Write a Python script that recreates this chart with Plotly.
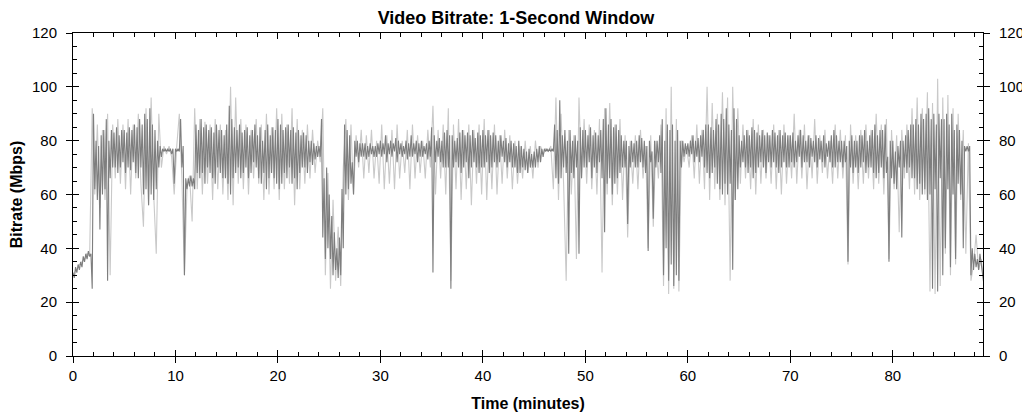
import numpy as np
import plotly.graph_objects as go

step = 0.25
# Dark series (1-second window bitrate, Mbps): per 0.25-min slot, the band's upper and lower reading
dark_hi = [
    31, 33, 34, 35, 37, 38, 39, 38, 90, 80, 78, 82, 84, 88, 80, 84, 83, 85, 82, 84,
    84, 83, 85, 84, 86, 85, 88, 86, 90, 88, 92, 86, 84, 80, 78, 77, 77, 77, 77, 77,
    77, 77, 88, 78, 66, 66, 67, 66, 86, 84, 88, 85, 86, 84, 85, 83, 86, 84, 84, 82,
    86, 93, 88, 85, 84, 86, 83, 84, 85, 82, 84, 86, 82, 85, 80, 84, 86, 82, 85, 84,
    88, 86, 84, 85, 86, 84, 85, 83, 84, 82, 83, 82, 80, 80, 79, 78, 78, 88, 66, 70,
    60, 52, 46, 40, 44, 62, 86, 84, 82, 72, 80, 80, 79, 79, 79, 78, 79, 78, 78, 79,
    80, 79, 82, 79, 80, 79, 81, 80, 79, 78, 80, 79, 82, 79, 80, 79, 80, 78, 79, 80,
    85, 82, 80, 81, 80, 83, 84, 82, 82, 80, 81, 83, 84, 82, 83, 82, 84, 81, 83, 82,
    84, 82, 84, 82, 83, 82, 80, 82, 80, 81, 79, 80, 79, 78, 80, 78, 77, 76, 77, 75,
    76, 77, 78, 77, 77, 77, 77, 77, 86, 84, 95, 82, 84, 80, 84, 80, 82, 80, 85, 84,
    84, 82, 85, 82, 83, 82, 84, 88, 92, 86, 88, 85, 86, 84, 82, 80, 80, 78, 80, 79,
    80, 82, 81, 80, 78, 80, 76, 80, 80, 82, 88, 80, 86, 84, 86, 80, 84, 80, 80, 79,
    79, 80, 82, 80, 81, 82, 84, 86, 86, 85, 84, 88, 86, 90, 88, 92, 86, 84, 92, 88,
    82, 80, 82, 84, 82, 85, 84, 83, 82, 84, 82, 83, 82, 84, 83, 82, 84, 82, 83, 82,
    82, 83, 80, 82, 84, 82, 80, 82, 81, 80, 82, 81, 80, 82, 79, 80, 82, 84, 82, 80,
    80, 80, 78, 80, 82, 80, 80, 82, 82, 84, 80, 82, 84, 86, 82, 84, 84, 86, 74, 80,
    80, 76, 78, 80, 80, 82, 84, 86, 86, 88, 86, 90, 88, 90, 92, 88, 90, 86, 90, 88,
    88, 90, 86, 90, 84, 86, 84, 80, 78, 78, 78, 40, 38, 36, 38, 30,
]
dark_lo = [
    29, 31, 32, 33, 35, 36, 37, 25, 62, 58, 47, 60, 62, 28, 66, 70, 70, 68, 70, 72,
    68, 70, 69, 72, 68, 66, 70, 60, 62, 56, 60, 58, 62, 70, 74, 76, 76, 76, 75, 64,
    76, 76, 70, 30, 62, 63, 63, 62, 68, 66, 68, 64, 70, 68, 66, 64, 70, 68, 66, 66,
    64, 60, 66, 68, 70, 66, 68, 70, 66, 68, 72, 70, 66, 64, 68, 62, 66, 68, 66, 64,
    62, 64, 68, 66, 70, 64, 66, 62, 68, 70, 70, 68, 72, 71, 73, 74, 74, 44, 36, 40,
    36, 30, 32, 29, 30, 40, 60, 62, 64, 60, 74, 72, 74, 74, 73, 74, 75, 74, 74, 75,
    74, 75, 72, 75, 74, 76, 72, 75, 74, 75, 73, 74, 74, 75, 72, 74, 74, 75, 73, 74,
    31, 72, 74, 72, 70, 70, 70, 25, 70, 72, 70, 68, 70, 72, 66, 70, 72, 70, 68, 70,
    70, 72, 68, 70, 72, 70, 72, 74, 72, 70, 72, 70, 70, 68, 68, 70, 69, 68, 70, 70,
    70, 72, 72, 74, 76, 76, 76, 76, 66, 64, 66, 70, 68, 38, 68, 66, 70, 38, 66, 70,
    70, 72, 66, 70, 68, 72, 66, 46, 64, 66, 60, 64, 66, 68, 70, 70, 49, 70, 72, 70,
    70, 72, 70, 68, 39, 72, 51, 70, 72, 68, 30, 40, 28, 34, 26, 30, 28, 70, 74, 75,
    74, 75, 72, 74, 72, 74, 70, 68, 66, 68, 70, 64, 62, 60, 64, 60, 64, 32, 58, 62,
    70, 72, 70, 68, 70, 66, 68, 70, 72, 70, 68, 72, 70, 72, 70, 68, 70, 72, 70, 70,
    72, 70, 72, 74, 70, 72, 72, 70, 74, 72, 70, 73, 72, 70, 74, 72, 70, 70, 72, 72,
    70, 72, 35, 70, 68, 70, 68, 70, 72, 68, 70, 70, 68, 66, 68, 70, 66, 68, 35, 66,
    64, 62, 70, 44, 70, 68, 70, 66, 66, 62, 64, 60, 62, 58, 60, 25, 62, 24, 66, 30,
    40, 62, 33, 60, 36, 64, 60, 40, 76, 76, 30, 32, 33, 32, 34, 27,
]
# Light series, sampled every 0.25 min starting at t=0.125
light = [
    31, 32, 34, 35, 36, 38, 37, 92, 60, 86, 55, 84, 58, 90, 30, 86, 66, 88, 64, 86,
    62, 88, 60, 86, 66, 90, 64, 48, 92, 56, 96, 60, 38, 90, 70, 78, 75, 78, 74, 60,
    78, 90, 66, 30, 63, 67, 50, 92, 62, 88, 60, 87, 64, 86, 58, 88, 62, 86, 60, 84,
    58, 100, 56, 96, 64, 88, 62, 86, 60, 84, 66, 88, 64, 86, 58, 90, 60, 85, 62, 92,
    58, 90, 62, 86, 64, 92, 56, 88, 62, 84, 64, 86, 66, 84, 68, 80, 72, 92, 30, 68,
    25, 58, 28, 48, 26, 70, 88, 58, 86, 60, 82, 70, 84, 66, 82, 68, 84, 66, 80, 64,
    86, 62, 82, 64, 84, 62, 86, 66, 80, 68, 84, 62, 86, 66, 82, 68, 80, 66, 84, 70,
    93, 60, 84, 66, 86, 60, 92, 28, 86, 62, 88, 58, 84, 62, 86, 56, 84, 64, 86, 60,
    88, 58, 84, 62, 86, 60, 82, 64, 84, 66, 82, 62, 80, 64, 78, 66, 80, 68, 78, 66,
    80, 70, 78, 75, 77, 76, 78, 62, 96, 58, 90, 64, 28, 84, 60, 82, 36, 96, 66, 88,
    64, 86, 62, 84, 60, 88, 31, 92, 60, 94, 56, 86, 60, 88, 58, 82, 44, 80, 64, 82,
    62, 84, 66, 78, 40, 82, 48, 80, 66, 86, 26, 92, 23, 100, 25, 88, 24, 80, 72, 78,
    70, 82, 66, 86, 64, 84, 62, 100, 58, 94, 62, 90, 58, 98, 56, 96, 28, 100, 58, 92,
    64, 86, 66, 84, 62, 88, 60, 86, 64, 84, 66, 82, 64, 86, 62, 84, 60, 86, 64, 82,
    66, 90, 64, 84, 66, 86, 62, 82, 66, 88, 64, 82, 68, 84, 66, 80, 64, 86, 66, 84,
    66, 82, 34, 86, 64, 82, 62, 84, 64, 86, 66, 84, 62, 90, 64, 86, 60, 88, 36, 84,
    62, 82, 46, 84, 66, 86, 62, 92, 60, 96, 58, 92, 60, 98, 24, 94, 23, 103, 26, 96,
    38, 97, 30, 92, 34, 90, 58, 84, 38, 79, 28, 34, 45, 32, 36, 28,
]

# dark readings: upper value at the slot start, lower value half a slot later
slot = np.arange(len(dark_hi)) * step
t_dark = np.column_stack([slot, slot + step / 2]).ravel()
dark = np.column_stack([dark_hi, dark_lo]).ravel()
t_light = np.arange(len(light)) * step + step / 2

x_range = [0, 88.8]
y_range = [0, 120]
y_ticks = [0, 20, 40, 60, 80, 100, 120]
x_ticks = [0, 10, 20, 30, 40, 50, 60, 70, 80]

FONT = "Liberation Sans, Arial, sans-serif"

fig = go.Figure()
fig.add_trace(go.Scatter(x=t_light, y=light, mode="lines",
                         line=dict(color="#c9c9c9", width=1.1), showlegend=False))
fig.add_trace(go.Scatter(x=t_dark, y=dark, mode="lines",
                         line=dict(color="#7e7e7e", width=1.1), showlegend=False))
# empty traces to bind the overlay axes
fig.add_trace(go.Scatter(x=[], y=[], xaxis="x2", yaxis="y2", showlegend=False))
fig.add_trace(go.Scatter(x=[], y=[], xaxis="x2", yaxis="y3", showlegend=False))

tickfont = dict(family=FONT, size=15, color="#000")
titlefont = dict(family=FONT, size=16, color="#000")
common_x = dict(range=x_range, tickvals=x_ticks, showgrid=False, zeroline=False, automargin=False,
                linecolor="#000", linewidth=1, tickcolor="#000")
common_y = dict(range=y_range, tickvals=y_ticks, showgrid=False, zeroline=False, automargin=False,
                linecolor="#000", linewidth=1, tickcolor="#000")

# the page body has an 8px default margin, so the figure is sized to fit the window
fig.update_layout(
    width=1022, height=412,
    paper_bgcolor="white", plot_bgcolor="white",
    margin=dict(l=65, r=47, t=25, b=64),
    title=dict(text="<b>Video Bitrate: 1-Second Window</b>", x=0.497, xref="container",
               y=0.992, yanchor="top", pad=dict(t=0),
               font=dict(family=FONT, size=18, color="#000")),
    xaxis=dict(**common_x, showline=True, ticks="outside", ticklen=6, tickfont=tickfont,
               title=dict(text="<b>Time (minutes)</b>", font=titlefont, standoff=14)),
    xaxis2=dict(**common_x, overlaying="x", side="bottom", anchor="y", showline=True, mirror="ticks",
                ticks="inside", ticklen=6, showticklabels=False,
                minor=dict(dtick=2, tick0=0, ticks="inside", ticklen=4, tickcolor="#000")),
    yaxis=dict(**common_y, showline=True, ticks="outside", ticklen=6, tickfont=tickfont,
               ticklabelstandoff=6,
               title=dict(text="<b>Bitrate (Mbps)</b>", font=titlefont, standoff=12)),
    yaxis2=dict(**common_y, overlaying="y", side="right", anchor="x", showline=True,
                ticks="outside", ticklen=6, tickfont=tickfont, ticklabelstandoff=6),
    yaxis3=dict(**common_y, overlaying="y", side="left", anchor="x", showline=True, mirror="ticks",
                ticks="inside", ticklen=6, showticklabels=False,
                minor=dict(dtick=5, tick0=0, ticks="inside", ticklen=4, tickcolor="#000")),
)

fig.write_html("out.html")
